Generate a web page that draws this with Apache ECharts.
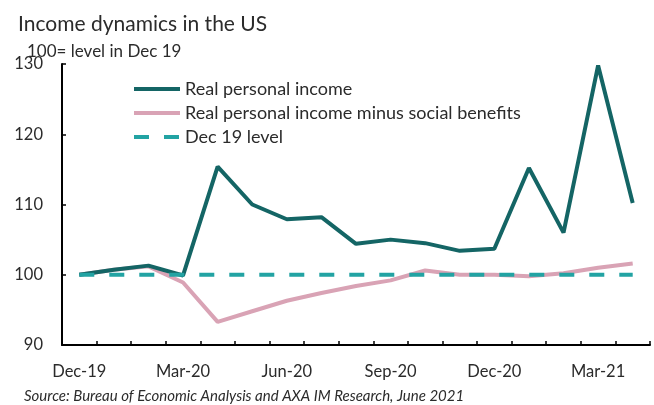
<!DOCTYPE html>
<html><head><meta charset="utf-8">
<script src="https://cdn.jsdelivr.net/npm/echarts@6/dist/echarts.min.js"></script>
<style>html,body{margin:0;padding:0;background:#fff}#c{width:654px;height:405px}</style>
</head><body><div id="c"></div>
<script>
const categories = ['Dec-19','Jan-20','Feb-20','Mar-20','Apr-20','May-20','Jun-20','Jul-20','Aug-20','Sep-20','Oct-20','Nov-20','Dec-20','Jan-21','Feb-21','Mar-21','Apr-21'];
const realIncome = [100, 100.7, 101.3, 99.9, 115.4, 110.0, 107.9, 108.2, 104.4, 105.0, 104.5, 103.4, 103.7, 115.2, 106.0, 129.8, 110.2];
const realIncomeMinusBenefits = [100, 100.7, 101.2, 98.9, 93.3, 94.8, 96.3, 97.4, 98.4, 99.2, 100.6, 100.0, 100.0, 99.8, 100.2, 101.0, 101.6];
const dec19Level = [100,100,100,100,100,100,100,100,100,100,100,100,100,100,100,100,100];
const yTicks = [90, 100, 110, 120, 130];
const FONT = 'Lato';
const TXT = '#2b2b2b';
const chart = echarts.init(document.getElementById('c'));
chart.setOption({
  animation: false,
  backgroundColor: '#fff',
  textStyle: { fontFamily: FONT },
  title: [
    { text: 'Income dynamics in the US', left: 13, top: 9, textStyle: { fontFamily: FONT, fontSize: 21, fontWeight: 'normal', color: TXT } },
    { text: '100= level in Dec 19', left: 22, top: 38, textStyle: { fontFamily: FONT, fontSize: 17, fontWeight: 'normal', color: TXT } },
    { text: 'Source: Bureau of Economic Analysis and AXA IM Research, June 2021', left: 19, top: 384, textStyle: { fontFamily: FONT, fontSize: 15, fontStyle: 'italic', fontWeight: 'normal', color: TXT } }
  ],
  legend: {
    orient: 'vertical', left: 127, top: 75, itemGap: 6, itemWidth: 46, itemHeight: 14,
    width: 480, height: 100,
    itemStyle: { opacity: 0 },
    lineStyle: { width: 4 },
    textStyle: { fontFamily: FONT, fontSize: 18, color: TXT },
    data: ['Real personal income', 'Real personal income minus social benefits', 'Dec 19 level']
  },
  grid: { left: 62, right: 4, top: 64, bottom: 60 },
  xAxis: {
    type: 'category', data: categories, boundaryGap: true,
    axisLine: { lineStyle: { color: '#000', width: 2 } },
    axisTick: { show: true, inside: true, length: 4, interval: 0, lineStyle: { color: '#000', width: 1.5 } },
    axisLabel: { interval: 2, color: TXT, fontSize: 16.5, fontFamily: FONT, margin: 18 }
  },
  yAxis: {
    type: 'value', min: yTicks[0], max: yTicks[yTicks.length - 1], interval: 10,
    splitLine: { show: false },
    axisLine: { show: true, lineStyle: { color: '#000', width: 2 } },
    axisTick: { show: true, inside: true, length: 4, lineStyle: { color: '#000', width: 1.5 } },
    axisLabel: { color: TXT, fontSize: 16.5, fontFamily: FONT, margin: 19 }
  },
  series: [
    { name: 'Real personal income', type: 'line', data: realIncome, symbol: 'none', z: 3,
      lineStyle: { color: '#146565', width: 4 }, itemStyle: { color: '#146565' } },
    { name: 'Real personal income minus social benefits', type: 'line', data: realIncomeMinusBenefits, symbol: 'none', z: 2,
      lineStyle: { color: '#d9a3b5', width: 4 }, itemStyle: { color: '#d9a3b5' } },
    { name: 'Dec 19 level', type: 'line', data: dec19Level, symbol: 'none', z: 4,
      lineStyle: { color: '#22a3a3', width: 4, type: [15, 15] }, itemStyle: { color: '#22a3a3' } }
  ]
});
</script></body></html>
